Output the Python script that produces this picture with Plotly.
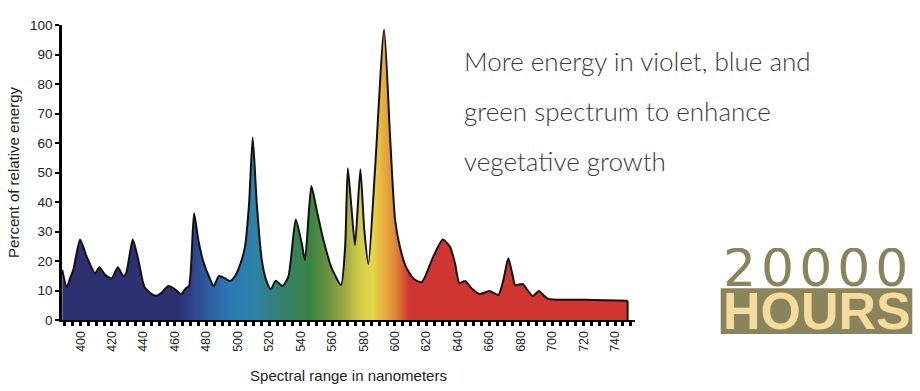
import plotly.graph_objects as go

# ---- data ----
wavelength_nm = [388.4, 391.2, 393.3, 395.4, 399.7, 403.9, 409.2, 412.0, 415.6, 419.8,
                 423.7, 427.2, 429.0, 433.2, 436.8, 440.6, 445.3, 448.5, 451.7, 455.9,
                 460.1, 463.9, 466.9, 469.0, 472.2, 474.9, 478.1, 481.7, 484.7, 488.1,
                 491.9, 495.1, 498.3, 501.4, 504.6, 507.2, 509.5, 512.1, 515.3, 518.4,
                 521.0, 524.2, 528.4, 532.2, 536.9, 540.7, 542.8, 546.8, 550.2, 554.5,
                 559.8, 565.7, 568.3, 570.0, 572.1, 574.6, 578.0, 580.5, 583.1, 587.3,
                 593.1, 596.9, 600.1, 603.5, 607.0, 611.7, 617.0, 624.4, 630.4, 635.0,
                 638.2, 641.0, 644.6, 648.8, 654.1, 660.0, 665.8, 669.0, 672.1, 675.0,
                 676.4, 681.3, 683.9, 687.7, 691.5, 694.4, 697.6, 720.0, 748.0]
relative_energy = [17.0, 11.1, 14.1, 17.0, 27.3, 21.5, 15.8, 17.9, 15.3, 14.1,
                   17.9, 14.9, 15.8, 27.3, 20.3, 11.3, 8.8, 8.2, 9.3, 11.5,
                   10.4, 8.7, 10.7, 11.5, 36.2, 27.1, 19.8, 14.7, 11.5, 14.9,
                   14.1, 13.2, 14.9, 18.6, 24.8, 39.5, 61.9, 39.5, 20.3, 13.0,
                   10.4, 13.3, 11.5, 14.7, 34.1, 26.0, 20.3, 45.4, 37.3, 27.1,
                   17.5, 11.9, 24.8, 51.4, 39.5, 25.4, 51.1, 30.5, 19.0, 50.8,
                   98.5, 62.1, 33.9, 24.0, 18.0, 14.1, 12.8, 21.5, 27.3, 24.8,
                   19.2, 12.5, 13.2, 10.7, 8.8, 9.8, 8.5, 13.6, 20.9, 14.7,
                   11.9, 12.2, 10.4, 8.1, 9.8, 8.5, 7.1, 6.9, 6.5]

x_tick_values = list(range(400, 741, 20))
x_tick_labels = [str(v) for v in x_tick_values]
y_tick_values = list(range(0, 101, 10))
y_tick_labels = [str(v) for v in y_tick_values]

headline_lines = ["More energy in violet, blue and",
                  "green spectrum to enhance",
                  "vegetative growth"]
logo_number = "20000"
logo_word = "HOURS"

# ---- spectrum gradient (wavelength -> colour) ----
spectrum_stops = [(388.4, "#2d3172"), (462, "#2d3172"), (470, "#2f3f86"),
                  (480, "#2e5a9e"), (495, "#2a78b5"), (510, "#2e82a8"),
                  (522, "#348080"), (546, "#3a8440"), (558, "#6a943e"),
                  (567, "#9aa640"), (578, "#d4cc48"), (586, "#e6d64a"),
                  (592, "#e8b040"), (599, "#e09038"), (605, "#d85a32"),
                  (609, "#cf3531"), (748.0, "#cf3531")]
g0, g1 = wavelength_nm[0], wavelength_nm[-1]
colorscale = [[(w - g0) / (g1 - g0), c] for w, c in spectrum_stops]

fig = go.Figure()
fig.add_trace(go.Scatter(
    x=wavelength_nm, y=relative_energy, mode="lines",
    line=dict(color="#111111", width=2, shape="spline", smoothing=0.6),
    fill="tozeroy",
    fillgradient=dict(type="horizontal", colorscale=colorscale, start=g0, stop=g1),
    hoverinfo="x+y", showlegend=False))
# closing vertical edge at the long-wavelength end
fig.add_trace(go.Scatter(
    x=[wavelength_nm[-1], wavelength_nm[-1]], y=[relative_energy[-1], 0],
    mode="lines", line=dict(color="#111111", width=2), showlegend=False,
    hoverinfo="skip"))

axis_font = dict(family="Liberation Sans, Arial, sans-serif", color="#222222")

fig.update_xaxes(
    range=[388.2, 752.7], showgrid=False, zeroline=False,
    showline=True, linecolor="black", linewidth=2,
    tickmode="array", tickvals=x_tick_values, ticktext=x_tick_labels,
    tickangle=-90, ticks="outside", ticklen=4, tickwidth=2.5, tickcolor="black",
    tickfont=dict(size=12.5, **axis_font),
    minor=dict(dtick=5, tick0=390, ticks="outside", ticklen=4, tickwidth=2.5,
               tickcolor="black", showgrid=False),
    title=dict(text="Spectral range in nanometers", font=dict(size=15, **axis_font),
               standoff=20),
    automargin=False)
fig.update_yaxes(
    range=[0, 100], showgrid=False, zeroline=False,
    showline=True, linecolor="black", linewidth=2.5,
    tickmode="array", tickvals=y_tick_values, ticktext=y_tick_labels,
    ticks="outside", ticklen=4, tickwidth=2, tickcolor="black",
    tickfont=dict(size=13.5, **axis_font),
    title=dict(text="Percent of relative energy", font=dict(size=15, **axis_font),
               standoff=7),
    automargin=False)

L, R, T, B = 62, 285, 25, 71
W, H = 920, 391
pw, ph = W - L - R, H - T - B


def px(xp):
    return (xp - L) / pw


def py(yp):
    return (H - B - yp) / ph


annotations = []
for i, line in enumerate(headline_lines):
    annotations.append(dict(
        text=line, xref="paper", yref="paper", x=px(462), y=py(61 + 50 * i),
        xanchor="left", yanchor="middle", showarrow=False,
        font=dict(family="Lato, sans-serif", size=26, weight=300, color="#3a3a3a")))

annotations.append(dict(
    text='<span style="letter-spacing:5px">' + logo_number + '</span>',
    xref="paper", yref="paper", x=px(818), y=py(268), height=40, valign="middle",
    xanchor="center", yanchor="middle", showarrow=False,
    font=dict(family="DejaVu Sans, sans-serif", size=52, color="#8a845c")))

annotations.append(dict(
    text="<b>" + logo_word + "</b>", xref="paper", yref="paper", x=px(817), y=py(311),
    height=42, valign="middle",
    xanchor="center", yanchor="middle", showarrow=False,
    font=dict(family="Liberation Sans, Arial, sans-serif", size=52, color="#f5dc9c")))

fig.add_shape(type="rect", xref="paper", yref="paper",
              x0=px(720.7), x1=px(912.3), y0=py(334), y1=py(288.3),
              fillcolor="#8a845c", line=dict(width=0), layer="below")

fig.update_layout(
    width=W, height=H, margin=dict(l=L, r=R, t=T, b=B, autoexpand=False),
    paper_bgcolor="white", plot_bgcolor="white",
    annotations=annotations, showlegend=False)

fig.write_html("out.html", config={"displayModeBar": False},
               post_script="document.body.style.margin='0';document.body.style.padding='0';")
